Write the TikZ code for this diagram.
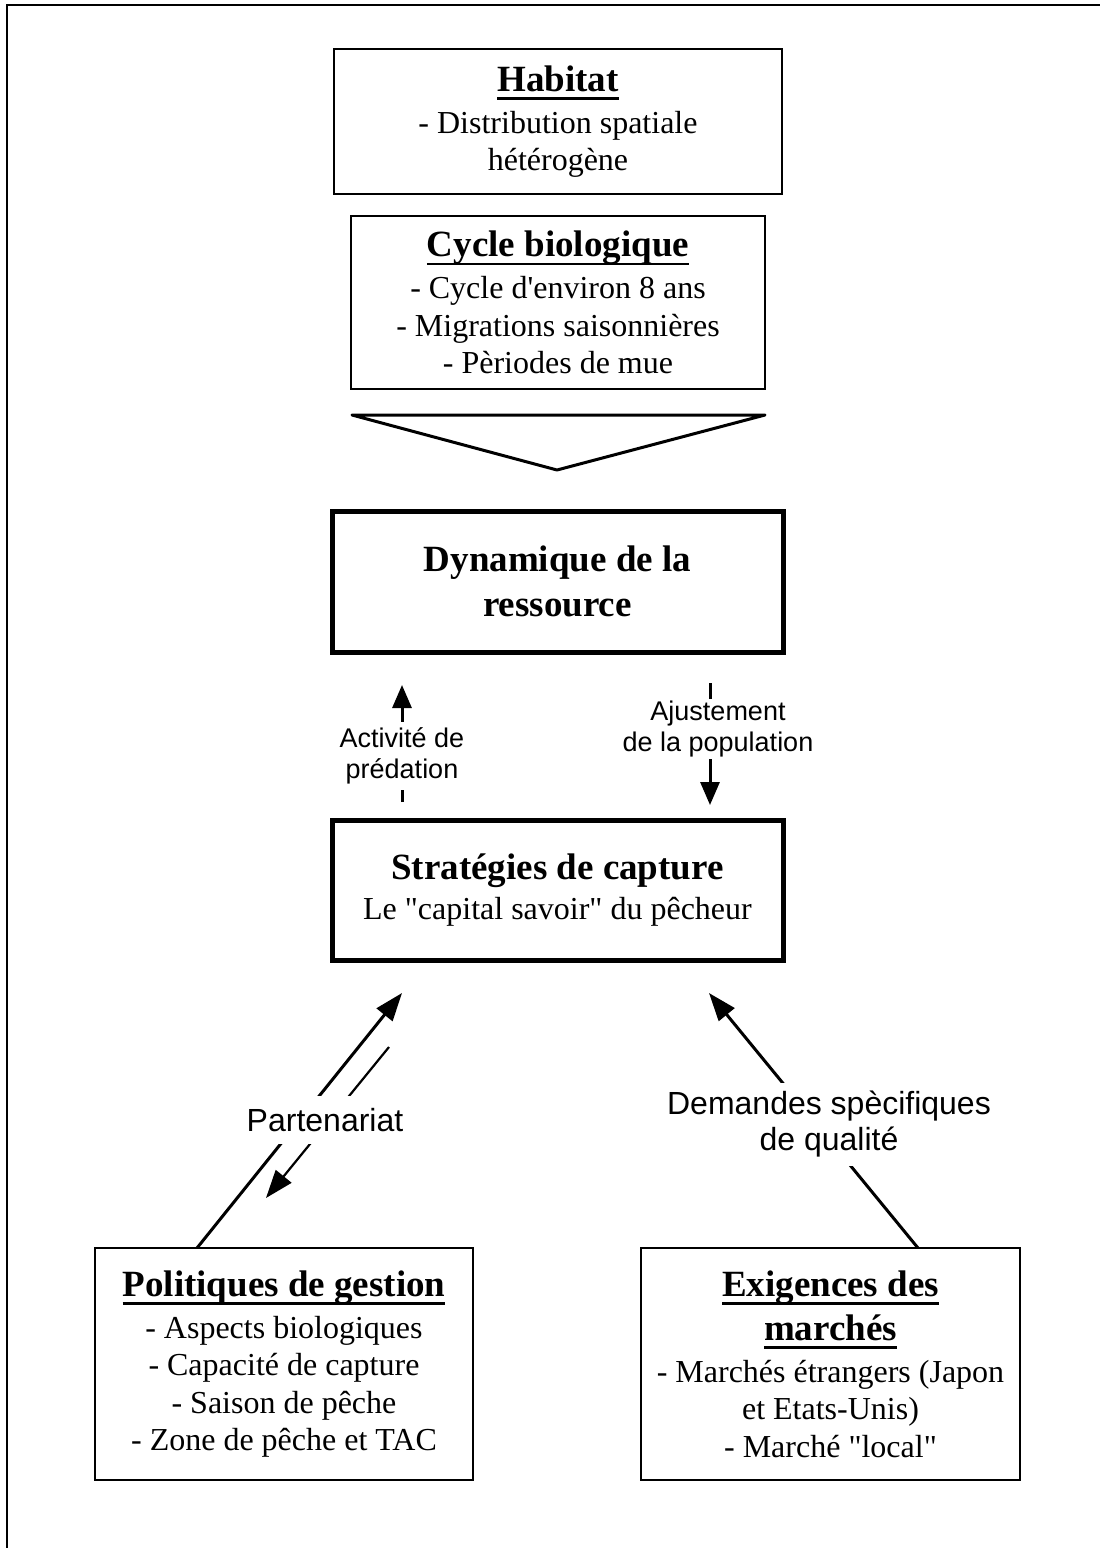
\documentclass[tikz,border=0pt]{standalone}
\usepackage{fontspec}
\setmainfont{Liberation Serif}
\setsansfont{Liberation Sans}
\newfontfamily\rawserif{Liberation Serif}
\usetikzlibrary{arrows.meta}
\newcommand\ulx[1]{\setbox0\hbox{#1}\rlap{\rule[-4.4pt]{\wd0}{1.3pt}}\box0}
\newcommand\ttl[1]{{\fontsize{18.5}{18.75}\selectfont\bfseries\ulx{#1}}}
\newcommand\dq{{\rawserif\char"22}}
\newcommand\sq{{\rawserif\char"27}}
\tikzset{
  box/.style={draw, line width=1.4pt, inner sep=0pt, align=center,
    font=\fontsize{16}{18.75}\selectfont},
  thickbox/.style={box, line width=2.5pt},
  lab/.style={font=\sffamily\fontsize{13.5}{15.5}\selectfont, fill=white,
    align=center, inner xsep=2pt, inner ysep=3pt},
  biglab/.style={font=\sffamily\fontsize{16}{18}\selectfont, fill=white,
    align=center, inner xsep=2pt},
  varr/.style={line width=1.5pt, -{Triangle[length=11.5pt,width=9.5pt]}},
  darr/.style={line width=1.5pt, -{Triangle[length=14pt,width=10pt]}},
  darrthin/.style={line width=1.1pt, -{Triangle[length=14pt,width=10pt]}},
}
\begin{document}
\begin{tikzpicture}[x=0.5pt,y=-0.5pt]
\useasboundingbox (0,0) rectangle (1100,1548);
% outer frame
\draw[line width=1pt] (7,1548) -- (7,5) -- (1100,5);

% boxes
\node[box, minimum width=224pt, minimum height=72.5pt] (hab) at (558,121.5)
  {\ttl{Habitat}\\[2.25pt] - Distribution spatiale\\ hétérogène};
\node[box, minimum width=207pt, minimum height=86.5pt] (cyc) at (558,302.5)
  {\ttl{Cycle biologique}\\[2.25pt] - Cycle d\sq environ 8 ans\\ - Migrations saisonnières\\ - Pèriodes de mue};

% big down triangle
\coordinate (t1) at (352,415);
\coordinate (t2) at (765,415);
\coordinate (t3) at (557,470);
\draw[line width=1.5pt, line join=round] (t1) -- (t2) -- (t3) -- cycle;

\node[thickbox, minimum width=225.5pt, minimum height=70.5pt,
  font=\fontsize{18.5}{22.5}\selectfont\bfseries] (dyn) at (557.5,581.5)
  {Dynamique de la\\ ressource};
\node[thickbox, minimum width=225.5pt, minimum height=70pt,
  font=\fontsize{16}{20}\selectfont] (str) at (557.5,890)
  {{\fontsize{18.5}{20}\selectfont\bfseries Stratégies de capture}\\ Le \dq capital savoir\dq\ du pêcheur};

\node[box, minimum width=189pt, minimum height=116pt] (pol) at (284,1364)
  {\ttl{Politiques de gestion}\\[2.25pt] - Aspects biologiques\\ - Capacité de capture\\ - Saison de pêche\\ - Zone de pêche et TAC};
\node[box, minimum width=189.5pt, minimum height=116pt] (exi) at (830.5,1364)
  {\ttl{Exigences des}\\[3.25pt] \ttl{marchés}\\[2.25pt] - Marchés étrangers (Japon\\ et Etats-Unis)\\ - Marché \dq local\dq};

% vertical arrows between dyn and str
\coordinate (a1) at (402,802);
\coordinate (a2) at (402,685);
\draw[varr] (a1) -- (a2);
\node[lab] (l1) at (402,756) {Activité de\\prédation};

\coordinate (b1) at (710,683);
\coordinate (b2) at (710,805);
\draw[varr] (b1) -- (b2);
\node[lab, inner ysep=1pt] (l2) at (718,729) {Ajustement\\de la population};

% Partenariat arrows
\coordinate (u1) at (197,1248);
\coordinate (u2) at (402,993);
\draw[darr] (u1) -- (u2);
\coordinate (d1) at (389,1047);
\coordinate (d2) at (266,1198);
\draw[darrthin] (d1) -- (d2);
\node[biglab, text height=11.5pt, text depth=0pt, inner ysep=6.25pt] (l3) at (325,1120) {Partenariat};

% Demandes arrow
\coordinate (m1) at (918,1248);
\coordinate (m2) at (709,993);
\draw[darr] (m1) -- (m2);
\node[biglab, inner ysep=4.2pt] (l4) at (829,1124) {Demandes spècifiques\\de qualité};
\end{tikzpicture}
\end{document}
